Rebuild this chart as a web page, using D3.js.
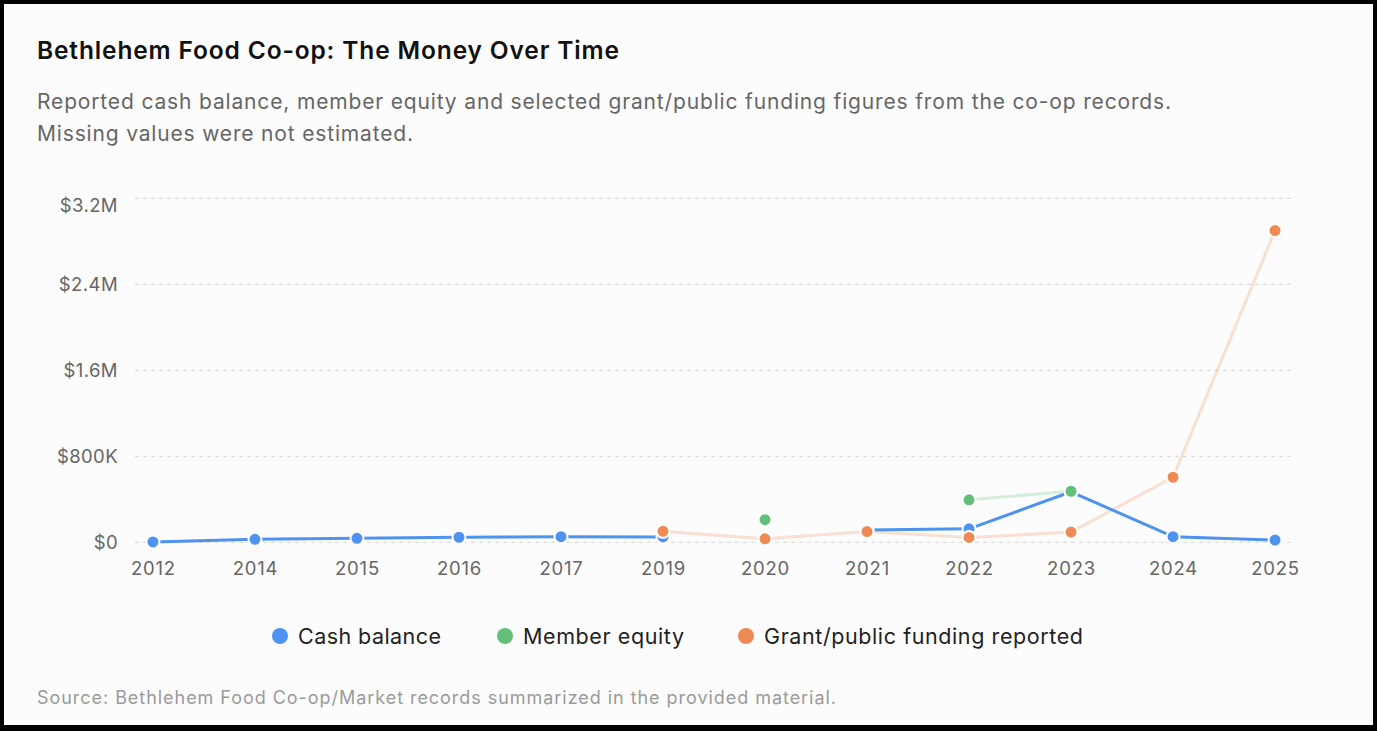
<!DOCTYPE html>
<html lang="en">
<head>
<meta charset="UTF-8">
<title>Bethlehem Food Co-op: The Money Over Time</title>
<script src="https://cdn.jsdelivr.net/npm/d3@7/dist/d3.min.js"></script>
<style>
    body { margin: 0; background: #fcfcfc; }
    svg { display: block; font-family: Inter, "Noto Sans", sans-serif; }
    .tick-label { font-size: 18.5px; fill: #666; }
    .legend-text { font-size: 21.5px; fill: #222; }
</style>
</head>
<body>
<svg id="chart" width="1377" height="731"></svg>
<script>
    // data
    const years = ["2012", "2014", "2015", "2016", "2017", "2019", "2020", "2021", "2022", "2023", "2024", "2025"];
    const cashBalance = [3000, 28000, 37000, 47000, 52000, 50000, null, 115000, 125000, 470000, 52000, 21000];
    const memberEquity = [null, null, null, null, null, null, 210000, null, 395000, 475000, null, null];
    const grantFunding = [null, null, null, null, null, 102000, 32000, 100000, 45000, 95000, 605000, 2900000];
    const yTicks = [0, 800000, 1600000, 2400000, 3200000];

    const series = [
        {name: "Cash balance", values: cashBalance, color: "#4f93f0", lineOpacity: 1},
        {name: "Member equity", values: memberEquity, color: "#63bf78", lineOpacity: 0.25},
        {name: "Grant/public funding reported", values: grantFunding, color: "#ef8a55", lineOpacity: 0.25}
    ];

    const svg = d3.select("#chart"),
          width = +svg.attr("width"),
          height = +svg.attr("height");

    // stretch text a little with letter-spacing so it spans the same width as the original font
    function fitWidth(sel, target) {
        sel.each(function() {
            const len = this.getComputedTextLength();
            const n = this.textContent.length;
            if (n > 1) d3.select(this).style("letter-spacing", ((target - len) / (n - 1)) + "px");
        });
    }

    // frame
    svg.append("rect").attr("width", width).attr("height", height).attr("fill", "#000");
    svg.append("rect").attr("x", 4).attr("y", 4)
        .attr("width", width - 8).attr("height", height - 10)
        .attr("fill", "#fcfcfc");

    // title + subtitle
    svg.append("text").attr("x", 37).attr("y", 59)
        .style("font-size", "24.5px").style("font-weight", 600).attr("fill", "#111")
        .text("Bethlehem Food Co-op: The Money Over Time")
        .call(fitWidth, 582);
    svg.append("text").attr("x", 37).attr("y", 109)
        .style("font-size", "21px").attr("fill", "#666")
        .text("Reported cash balance, member equity and selected grant/public funding figures from the co-op records.")
        .call(fitWidth, 1134);
    svg.append("text").attr("x", 37).attr("y", 141)
        .style("font-size", "21px").attr("fill", "#666")
        .text("Missing values were not estimated.")
        .call(fitWidth, 376);

    const plot = {left: 135, right: 1293, top: 198.3, bottom: 542.3};

    const x = d3.scalePoint().domain(years).range([plot.left, plot.right]).padding(0.176);
    const y = d3.scaleLinear().domain([0, 3200000]).range([plot.bottom, plot.top]);

    const fmt = v => v === 0 ? "$0" : v >= 1e6 ? "$" + d3.format(".1f")(v / 1e6) + "M" : "$" + (v / 1000) + "K";

    // grid
    svg.append("g").selectAll("line").data(yTicks).enter().append("line")
        .attr("x1", plot.left).attr("x2", plot.right)
        .attr("y1", d => y(d)).attr("y2", d => y(d))
        .attr("stroke", "#dcdcdc").attr("stroke-width", 1.2)
        .attr("stroke-dasharray", "4 4");

    // y axis labels (top label kept inside the plot)
    svg.append("g").selectAll("text").data(yTicks).enter().append("text")
        .attr("class", "tick-label")
        .attr("x", 118)
        .attr("y", d => Math.max(y(d), plot.top + 7.5))
        .attr("dy", "0.36em")
        .attr("text-anchor", "end")
        .style("letter-spacing", "0.4px")
        .text(fmt);

    // x axis labels
    const xAxis = d3.axisBottom(x).tickSize(0).tickPadding(0);
    const xAxisG = svg.append("g").attr("transform", `translate(0, 557)`).call(xAxis);
    xAxisG.select(".domain").remove();
    xAxisG.selectAll("text").attr("class", "tick-label").attr("dy", "0.95em")
        .style("font-family", "Inter, 'Noto Sans', sans-serif")
        .style("letter-spacing", "0.8px");

    // lines
    const line = d3.line()
        .defined(d => d.v !== null)
        .x(d => x(d.year))
        .y(d => y(d.v));

    const drawOrder = [2, 1, 0];
    drawOrder.forEach(i => {
        const s = series[i];
        svg.append("path")
            .datum(years.map((yr, j) => ({year: yr, v: s.values[j]})))
            .attr("fill", "none")
            .attr("stroke", s.color)
            .attr("stroke-opacity", s.lineOpacity)
            .attr("stroke-width", 3)
            .attr("stroke-linejoin", "round")
            .attr("d", line);
    });

    // dots
    series.forEach(s => {
        svg.append("g").selectAll("circle")
            .data(years.map((yr, j) => ({year: yr, v: s.values[j]})).filter(d => d.v !== null))
            .enter().append("circle")
            .attr("cx", d => x(d.year))
            .attr("cy", d => y(d.v))
            .attr("r", 6.5)
            .attr("fill", s.color)
            .attr("stroke", "#fff")
            .attr("stroke-width", 2);
    });

    // legend
    const legendX = [280, 505, 746];
    const legendW = [143, 161, 319];
    const legend = svg.selectAll(".legend").data(series).enter().append("g")
        .attr("class", "legend")
        .attr("transform", (d, i) => `translate(${legendX[i]}, 636)`);
    legend.append("circle").attr("r", 8).attr("fill", d => d.color);
    legend.append("text").attr("class", "legend-text")
        .attr("x", 18).attr("dy", "0.36em")
        .text(d => d.name)
        .each(function(d, i) { fitWidth(d3.select(this), legendW[i]); });

    // source
    svg.append("text").attr("x", 37).attr("y", 704)
        .style("font-size", "18px").attr("fill", "#9a9a9a")
        .text("Source: Bethlehem Food Co-op/Market records summarized in the provided material.")
        .call(fitWidth, 799);
</script>
</body>
</html>
